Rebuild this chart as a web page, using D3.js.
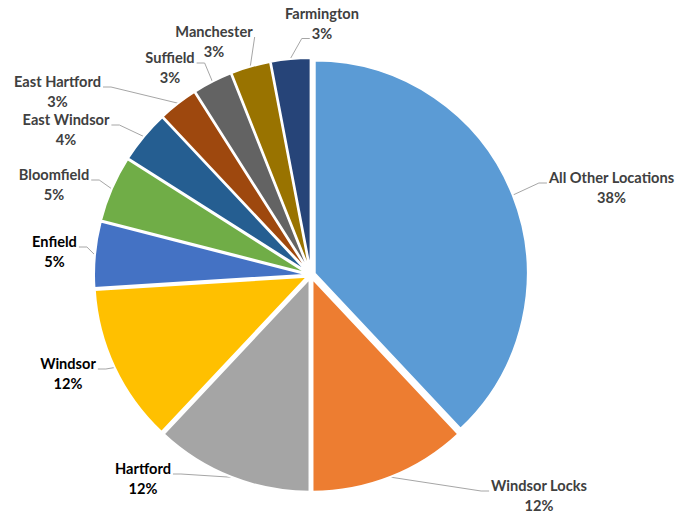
<!DOCTYPE html>
<html>
<head>
<meta charset="utf-8">
<script src="https://cdn.jsdelivr.net/npm/d3@7"></script>
<style>
  html, body { margin: 0; padding: 0; background: #fff; }
  svg { display: block; }
  .lbl { font-family: Lato, "Open Sans", sans-serif; font-weight: 700; font-size: 14.6px; }
</style>
</head>
<body>
<svg id="chart" width="678" height="518"></svg>
<script>
// Locations and their share of the total (percent)
const categories = [
  "All Other Locations", "Windsor Locks", "Hartford", "Windsor", "Enfield",
  "Bloomfield", "East Windsor", "East Hartford", "Suffield", "Manchester", "Farmington"
];
const shares = [38, 12, 12, 12, 5, 5, 4, 3, 3, 3, 3];

// Slice fills (Office palette order)
const sliceColors = [
  "#5B9BD5", "#ED7D31", "#A5A5A5", "#FFC000", "#4472C4",
  "#70AD47", "#255E91", "#9E480E", "#636363", "#997300", "#264478"
];
// Label ink per slice
const labelInk = [
  "#404040", "#404040", "#000000", "#000000", "#000000",
  "#404040", "#404040", "#404040", "#404040", "#404040", "#404040"
];
// Label placement: [centre x, first baseline y, side the leader attaches to, line index]
const labelSpots = [
  [611.5, 183, "left", 0],
  [539, 491, "left", 0],
  [143, 474, "right", 0],
  [68, 369, "right", 0],
  [54.5, 247, "right", 0],
  [54, 180, "right", 0],
  [66, 125, "right", 0],
  [57.5, 87, "right", 0],
  [170, 63, "right", 0],
  [214, 37, "right", 0],
  [322, 19, "left", 1]
];

const cx = 311, cy = 275, radius = 213, explode = 4, lineGap = 19.5;

const data = categories.map((name, i) => ({ name, share: shares[i], i }));
const pie = d3.pie().sort(null).value(d => d.share);
const arcs = pie(data);
const arcGen = d3.arc().innerRadius(0).outerRadius(radius);

const svg = d3.select("#chart");
const g = svg.append("g").attr("transform", `translate(${cx},${cy})`);

const mid = a => (a.startAngle + a.endAngle) / 2;
const shift = a => [explode * Math.sin(mid(a)), -explode * Math.cos(mid(a))];

// Exploded slices with white borders
g.selectAll("path.slice")
  .data(arcs)
  .join("path")
  .attr("class", "slice")
  .attr("d", arcGen)
  .attr("transform", a => `translate(${shift(a)[0]},${shift(a)[1]})`)
  .attr("fill", a => sliceColors[a.data.i])
  .attr("stroke", "#fff")
  .attr("stroke-width", 2)
  .attr("stroke-linejoin", "round");

// Data labels: name on the first line, percentage underneath
const labels = svg.append("g");
const leaders = svg.insert("g", "g");

arcs.forEach(a => {
  const i = a.data.i;
  const [lx, ly, side, lineIdx] = labelSpots[i];
  const t = labels.append("text")
    .attr("class", "lbl")
    .attr("text-anchor", "middle")
    .attr("fill", labelInk[i]);
  const lines = [a.data.name, `${a.data.share}%`];
  const spans = lines.map((s, k) => t.append("tspan")
    .attr("x", lx)
    .attr("y", ly + k * lineGap)
    .text(s));

  // Leader from the slice rim to the label edge
  const m = mid(a);
  const [sx, sy] = shift(a);
  const start = [cx + sx + (radius + 0.5) * Math.sin(m), cy + sy - (radius + 0.5) * Math.cos(m)];
  const w = spans[lineIdx].node().getComputedTextLength();
  const yEnd = ly + lineIdx * lineGap;
  const dir = side === "left" ? -1 : 1;
  const edge = lx + dir * w / 2 + dir * 2;
  const elbowX = edge + dir * 8;
  const pts = Math.abs(start[0] - edge) > 10
    ? [start, [elbowX, yEnd], [edge, yEnd]]
    : [start, [edge, yEnd]];
  leaders.append("path")
    .attr("d", d3.line()(pts))
    .attr("fill", "none")
    .attr("stroke", "#A6A6A6")
    .attr("stroke-width", 1);
});
</script>
</body>
</html>
